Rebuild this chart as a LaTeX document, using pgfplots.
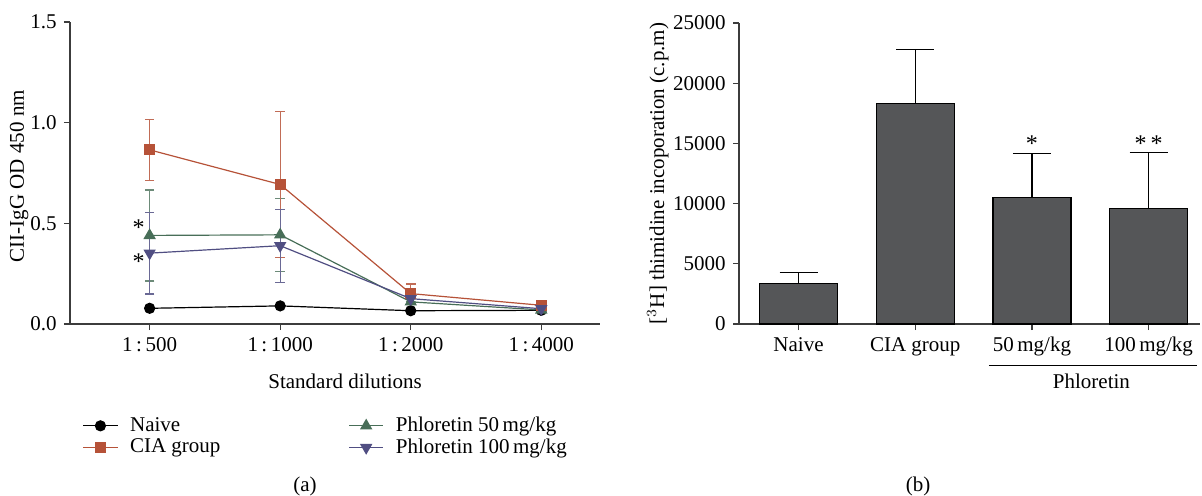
\documentclass[border=0pt]{standalone}
\usepackage{pgfplots}
\pgfplotsset{compat=1.18}
\usepackage{fontspec}
\setmainfont{Liberation Serif}
\definecolor{ciac}{RGB}{182,82,56}
\definecolor{g50}{RGB}{72,110,88}
\definecolor{p100}{RGB}{80,78,130}
\definecolor{barc}{RGB}{85,86,88}
\definecolor{axc}{RGB}{60,60,60}
\begin{document}
\fontsize{10.5}{12.6}\selectfont
\begin{tikzpicture}
\useasboundingbox (0,0) rectangle (601pt,247.5pt);
\pgfplotsset{
  mystyle/.style={
    scale only axis,
    axis x line*=bottom, axis y line*=left,
    axis line style={line width=0.6pt, color=axc},
    tick style={line width=0.6pt, color=axc},
    tick align=outside, major tick length=3pt,
    /pgf/number format/assume math mode=true,
    clip=false,
  }
}
% ---------------- panel (a)
\begin{axis}[mystyle,
  at={(35pt,85.5pt)}, anchor=south west,
  width=265pt, height=151pt,
  xmin=-0.61, xmax=3.45, ymin=0, ymax=1.5,
  xtick={0,1,2,3},
  xticklabels={1\,:\,500,1\,:\,1000,1\,:\,2000,1\,:\,4000},
  ytick={0,0.5,1,1.5},
  yticklabel style={/pgf/number format/fixed,/pgf/number format/fixed zerofill,/pgf/number format/precision=1},
  every axis x label/.style={at={(axis description cs:0.519,-0.19)},anchor=center},
  every axis y label/.style={at={(axis description cs:-0.096,0.49)},anchor=center,rotate=90},
  xlabel={Standard dilutions},
  ylabel={CII-IgG OD 450 nm},
  legend columns=2,
  legend style={at={(axis description cs:0.012,-0.28)},anchor=north west,draw=none,fill=none,
    legend cell align=left,row sep=-2pt,
    /tikz/every odd column/.append style={column sep=4pt},
    /tikz/every even column/.append style={column sep=62pt}},
  error bars/y dir=both, error bars/y explicit,
  error bars/error bar style={line width=0.6pt},
  error bars/error mark options={rotate=90,mark size=2.4pt,line width=0.6pt},
]
\addplot[black,line width=0.6pt,mark=*,mark size=2.5pt,
  error bars/draw error bar/.code={}]
  coordinates {(0,0.078) (1,0.090) (2,0.066) (3,0.068)};
\addlegendentry{Naive}
\addplot[g50,line width=0.6pt,mark=triangle*,mark size=3pt,
  error bars/error bar style={line width=0.6pt,g50!80}]
  coordinates {(0,0.440) +- (0,0.226) (1,0.443) +- (0,0.182) (2,0.110) +- (0,0.0) (3,0.070) +- (0,0.0)};
\addlegendentry{Phloretin 50\,mg/kg}
\addplot[ciac,line width=0.6pt,mark=square*,mark size=2.5pt,
  error bars/error bar style={line width=0.6pt,ciac!85}]
  coordinates {(0,0.865) +- (0,0.152) (1,0.693) +- (0,0.362) (2,0.151) +- (0,0.048) (3,0.093) +- (0,0.0)};
\addlegendentry{CIA group}
\addplot[p100,line width=0.6pt,mark=triangle*,mark size=3pt,mark options={rotate=180},
  error bars/error bar style={line width=0.6pt,p100!85}]
  coordinates {(0,0.352) +- (0,0.203) (1,0.389) +- (0,0.181) (2,0.126) +- (0,0.0) (3,0.076) +- (0,0.0)};
\addlegendentry{Phloretin 100\,mg/kg}
\node[font=\fontsize{12}{12}\selectfont] at (axis cs:-0.085,0.48) {*};
\node[font=\fontsize{12}{12}\selectfont] at (axis cs:-0.085,0.31) {*};
\end{axis}
% ---------------- panel (b)
\begin{axis}[mystyle,
  at={(369.5pt,85.5pt)}, anchor=south west,
  width=230.5pt, height=150.5pt,
  xmin=-0.51, xmax=3.44, ymin=0, ymax=25000,
  ybar, bar width=39pt,
  xtick={0,1,2,3},
  xticklabels={Naive,CIA group,50\,mg/kg,100\,mg/kg},
  ytick={0,5000,10000,15000,20000,25000},
  yticklabel style={/pgf/number format/1000 sep={}},
  scaled y ticks=false,
  every axis y label/.style={at={(axis description cs:-0.176,0.50)},anchor=center,rotate=90},
  ylabel={[$^{3}$H] thimidine incoporation (c.p.m)},
  error bars/y dir=plus, error bars/y explicit,
  error bars/error bar style={line width=0.6pt,black},
  error bars/error mark options={rotate=90,mark size=9.5pt,line width=0.6pt,black},
]
\addplot[fill=barc,draw=black,line width=0.6pt]
  coordinates {(0,3380) +- (0,910) (1,18330) +- (0,4450) (2,10520) +- (0,3650) (3,9610) +- (0,4620)};
\node[font=\fontsize{12}{12}\selectfont] at (axis cs:2,14950) {*};
\node[font=\fontsize{12}{12}\selectfont] at (axis cs:3,14950) {*\,*};
\draw[line width=0.6pt,black] (axis cs:1.63,-3450) -- (axis cs:3.41,-3450);
\node at (axis cs:2.51,-4800) {Phloretin};
\end{axis}
\node at (152.5pt,4.5pt) {(a)};
\node at (459pt,4.5pt) {(b)};
\end{tikzpicture}
\end{document}
